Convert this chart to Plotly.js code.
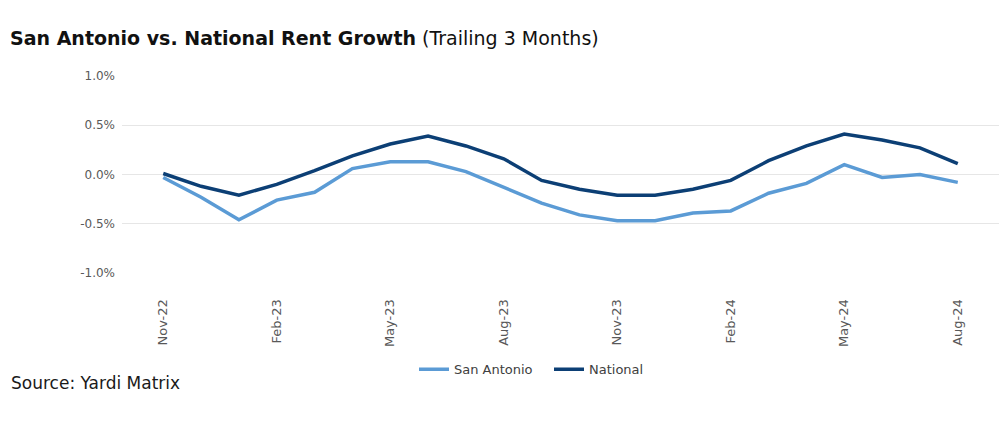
<!DOCTYPE html>
<html>
<head>
<meta charset="utf-8">
<script src="https://cdn.plot.ly/plotly-3.0.1.min.js"></script>
<style>
  html, body { margin: 0; padding: 0; background: #ffffff; }
  #chart { width: 1007px; height: 433px; }
</style>
</head>
<body>
<div id="chart"></div>
<script>
// Monthly periods, Nov 2022 through Aug 2024
const months = [
  'Nov-22', 'Dec-22', 'Jan-23', 'Feb-23', 'Mar-23', 'Apr-23', 'May-23', 'Jun-23',
  'Jul-23', 'Aug-23', 'Sep-23', 'Oct-23', 'Nov-23', 'Dec-23', 'Jan-24', 'Feb-24',
  'Mar-24', 'Apr-24', 'May-24', 'Jun-24', 'Jul-24', 'Aug-24'
];

// Trailing 3-month rent growth, in percent
const sanAntonio = [
  -0.03, -0.23, -0.46, -0.26, -0.18, 0.06, 0.13, 0.13,
  0.03, -0.13, -0.29, -0.41, -0.47, -0.47, -0.39, -0.37,
  -0.19, -0.09, 0.10, -0.03, 0.00, -0.08
];
const national = [
  0.01, -0.12, -0.21, -0.10, 0.04, 0.19, 0.31, 0.39,
  0.29, 0.16, -0.06, -0.15, -0.21, -0.21, -0.15, -0.06,
  0.14, 0.29, 0.41, 0.35, 0.27, 0.11
];

// Labelled months on the x axis (quarterly)
const xTicks = ['Nov-22', 'Feb-23', 'May-23', 'Aug-23', 'Nov-23', 'Feb-24', 'May-24', 'Aug-24'];

// Y axis ticks
const yTicks = [-1.0, -0.5, 0.0, 0.5, 1.0];
const yTickText = ['-1.0%', '-0.5%', '0.0%', '0.5%', '1.0%'];

const FONT = '"DejaVu Sans", Verdana, sans-serif';

const traces = [
  {
    name: 'San Antonio',
    x: months,
    y: sanAntonio,
    type: 'scatter',
    mode: 'lines',
    line: { color: '#5b9bd5', width: 3.5 },
    hoverinfo: 'x+y'
  },
  {
    name: 'National',
    x: months,
    y: national,
    type: 'scatter',
    mode: 'lines',
    line: { color: '#0c3f75', width: 3.5 },
    hoverinfo: 'x+y'
  }
];

const layout = {
  width: 1007,
  height: 433,
  paper_bgcolor: '#ffffff',
  plot_bgcolor: '#ffffff',
  margin: { l: 122, r: 8, t: 76, b: 160 },
  font: { family: FONT, color: '#595959', size: 12 },
  title: {
    text: '<b>San Antonio vs. National Rent Growth</b> (Trailing 3 Months)',
    font: { family: FONT, size: 19, color: '#111111' },
    xref: 'container',
    yref: 'container',
    x: 10 / 1007,
    xanchor: 'left',
    y: 1 - 38.5 / 433,
    yanchor: 'middle'
  },
  xaxis: {
    type: 'category',
    categoryorder: 'array',
    categoryarray: months,
    range: [-1.09, 22.09],
    tickmode: 'array',
    tickvals: xTicks,
    ticktext: xTicks,
    tickangle: -90,
    ticks: 'outside',
    ticklen: 20,
    tickcolor: 'rgba(0,0,0,0)',
    showgrid: false,
    showline: false,
    zeroline: false,
    tickfont: { family: FONT, size: 13, color: '#595959' }
  },
  yaxis: {
    range: [-1.0, 1.0],
    tickmode: 'array',
    tickvals: yTicks,
    ticktext: yTickText,
    showgrid: true,
    gridcolor: '#e6e6e6',
    gridwidth: 1,
    zeroline: false,
    showline: false,
    ticks: '',
    ticklabelstandoff: 6,
    tickfont: { family: FONT, size: 12, color: '#595959' }
  },
  showlegend: true,
  legend: {
    orientation: 'h',
    x: (414 - 122) / 877,
    xanchor: 'left',
    y: (273.3 - 370) / 197.6,
    yanchor: 'middle',
    font: { family: FONT, size: 13, color: '#404040' },
    bgcolor: 'rgba(0,0,0,0)',
    itemwidth: 30,
    entrywidth: 90,
    entrywidthmode: 'pixels',
    tracegroupgap: 0
  },
  annotations: [
    {
      text: 'Source: Yardi Matrix',
      xref: 'paper',
      yref: 'paper',
      x: -113 / 877,
      xanchor: 'left',
      y: (273.3 - 384) / 197.6,
      yanchor: 'middle',
      showarrow: false,
      font: { family: FONT, size: 17, color: '#1a1a1a' }
    }
  ]
};

Plotly.newPlot('chart', traces, layout, { displayModeBar: false, staticPlot: true });
</script>
</body>
</html>
